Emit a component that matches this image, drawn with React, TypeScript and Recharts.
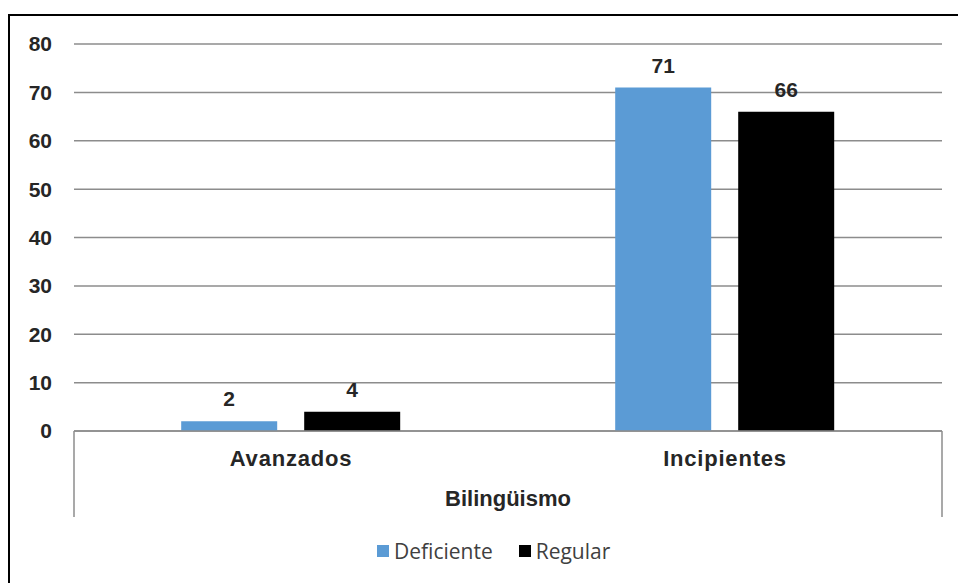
import React from 'react';
import { BarChart, Bar, XAxis, YAxis, CartesianGrid, Legend, LabelList } from 'recharts';

const categories = ['Avanzados', 'Incipientes'];
const deficiente = [2, 71];
const regular = [4, 66];
const yTicks = [0, 10, 20, 30, 40, 50, 60, 70, 80];
const seriesNames = ['Deficiente', 'Regular'];

const COLORS = ['#5b9bd5', '#000000'];
const WIDTH = 958;
const HEIGHT = 583;
const MARGIN = { top: 44, right: 16, left: 0, bottom: 66 };
const Y_AXIS_WIDTH = 74;
const X_AXIS_HEIGHT = 86;
const PLOT_WIDTH = WIDTH - MARGIN.left - MARGIN.right - Y_AXIS_WIDTH;
const HALF_BAND = PLOT_WIDTH / categories.length / 2;

const data = categories.map((name, i) => ({
  name,
  deficiente: deficiente[i],
  regular: regular[i],
}));

const FONT = '"Liberation Sans", Arial, sans-serif';

// category label plus the outer boundary ticks of the grouped axis
const CategoryTick = (props: any) => {
  const { x, y, payload, index } = props;
  const last = index === categories.length - 1;
  return (
    <g>
      {index === 0 && (
        <line x1={x - HALF_BAND} x2={x - HALF_BAND} y1={y} y2={y + X_AXIS_HEIGHT} stroke="#8c8c8c" strokeWidth={1.5} />
      )}
      {last && (
        <line x1={x + HALF_BAND} x2={x + HALF_BAND} y1={y} y2={y + X_AXIS_HEIGHT} stroke="#8c8c8c" strokeWidth={1.5} />
      )}
      <text
        x={x}
        y={y + 35}
        textAnchor="middle"
        fill="#262626"
        style={{ fontFamily: FONT, fontSize: 22, fontWeight: 700, letterSpacing: 0.8 }}
      >
        {payload.value}
      </text>
    </g>
  );
};

const LegendContent = () => (
  <div style={{ display: 'flex', alignItems: 'center', fontFamily: '"Open Sans", sans-serif', fontSize: 21, color: '#404040' }}>
    {seriesNames.map((name, i) => (
      <span key={name} style={{ display: 'flex', alignItems: 'center', marginRight: i === 0 ? 26 : 0 }}>
        <span style={{ display: 'inline-block', width: 12, height: 12, background: COLORS[i], marginRight: 5 }} />
        {name}
      </span>
    ))}
  </div>
);

export default function App() {
  return (
    <div style={{ position: 'absolute', left: 0, top: 0, width: WIDTH, height: HEIGHT, background: '#fff' }}>
      <div
        style={{
          position: 'absolute',
          left: 8,
          top: 14,
          width: WIDTH - 10,
          height: HEIGHT - 16,
          borderTop: '2px solid #000',
          borderLeft: '2px solid #000',
        }}
      />
      <BarChart
        width={WIDTH}
        height={HEIGHT}
        data={data}
        margin={MARGIN}
        barCategoryGap="24.7%"
        barGap={27}
      >
        <CartesianGrid vertical={false} stroke="#8c8c8c" strokeWidth={1.5} />
        <XAxis
          dataKey="name"
          height={X_AXIS_HEIGHT}
          tickLine={false}
          tickSize={0}
          tickMargin={0}
          axisLine={{ stroke: '#8c8c8c', strokeWidth: 1.5 }}
          tick={<CategoryTick />}
          label={{
            value: 'Bilingüismo',
            position: 'insideBottom',
            offset: 11,
            fill: '#262626',
            style: { fontFamily: FONT, fontSize: 22, fontWeight: 700 },
          }}
        />
        <YAxis
          width={Y_AXIS_WIDTH}
          domain={[0, 80]}
          ticks={yTicks}
          interval={0}
          axisLine={false}
          tickLine={false}
          tickSize={0}
          tickMargin={22}
          tick={{ fill: '#262626', fontFamily: FONT, fontSize: 21, fontWeight: 700 }}
        />
        <Legend
          verticalAlign="middle"
          align="center"
          layout="horizontal"
          content={<LegendContent />}
          wrapperStyle={{ top: 537, left: 377, width: 'auto' }}
        />
        <Bar dataKey="deficiente" name={seriesNames[0]} fill={COLORS[0]} isAnimationActive={false}>
          <LabelList
            dataKey="deficiente"
            position="top"
            offset={15}
            fill="#262626"
            style={{ fontFamily: FONT, fontSize: 21, fontWeight: 700 }}
          />
        </Bar>
        <Bar dataKey="regular" name={seriesNames[1]} fill={COLORS[1]} isAnimationActive={false}>
          <LabelList
            dataKey="regular"
            position="top"
            offset={15}
            fill="#262626"
            style={{ fontFamily: FONT, fontSize: 21, fontWeight: 700 }}
          />
        </Bar>
      </BarChart>
    </div>
  );
}
